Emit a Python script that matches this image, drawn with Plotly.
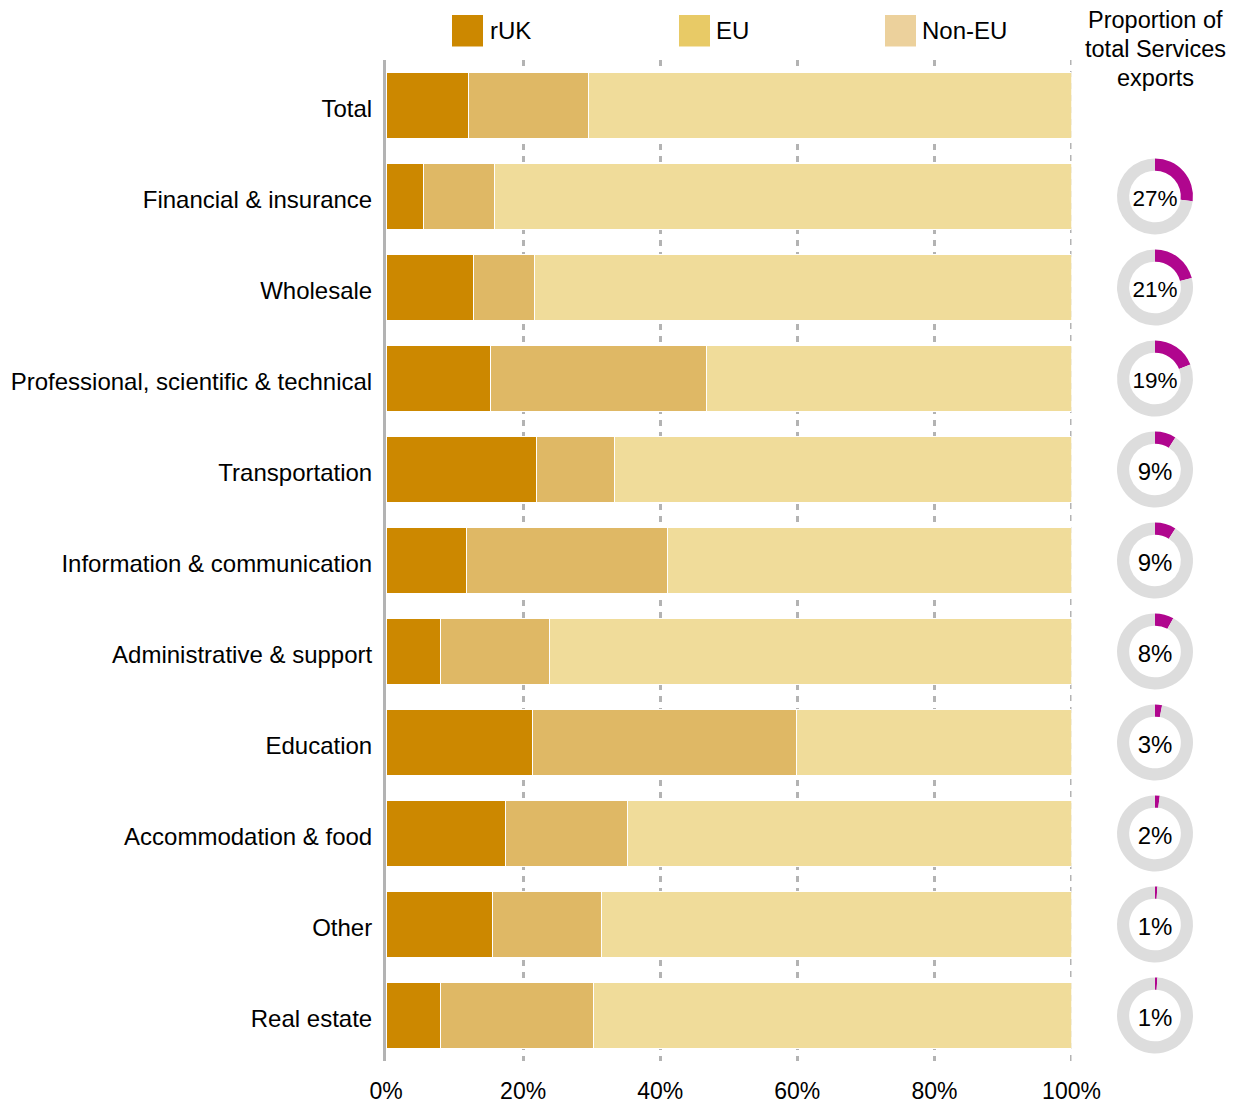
import plotly.graph_objects as go

# Sectors, top to bottom
sectors = [
    "Total",
    "Financial & insurance",
    "Wholesale",
    "Professional, scientific & technical",
    "Transportation",
    "Information & communication",
    "Administrative & support",
    "Education",
    "Accommodation & food",
    "Other",
    "Real estate",
]

# Share of each sector's services exports by destination (%)
ruk = [12.1, 5.5, 12.8, 15.3, 21.9, 11.7, 8.0, 21.4, 17.4, 15.5, 7.9]
eu = [17.5, 10.4, 8.9, 31.4, 11.4, 29.4, 15.9, 38.5, 17.8, 15.9, 22.4]
non_eu = [70.4, 84.1, 78.3, 53.3, 66.7, 58.9, 76.1, 40.1, 64.8, 68.6, 69.7]

# Each sector's proportion of total services exports (%), no ring for Total
proportion = [None, 27, 21, 19, 9, 9, 8, 3, 2, 1, 1]

x_ticks = [0, 20, 40, 60, 80, 100]

FONT = "Liberation Sans, Arial, sans-serif"
W, H = 1237, 1104
ML, MR, MT, MB = 10, 10, 60, 43
PW, PH = W - ML - MR, H - MT - MB

C_RUK = "#CC8800"
C_EU = "#DFB865"
C_NON = "#F0DC9A"
C_EU_KEY = "#E8CA66"
C_NON_KEY = "#ECD19C"
C_RING = "#DDDDDD"
C_SHARE = "#B0068E"
C_GRID = "#B3B3B3"


def px_x(px):
    return (px - ML) / PW


def px_y(py):
    return (MT + PH - py) / PH


fig = go.Figure()

for name, vals, col in [("rUK", ruk, C_RUK), ("EU", eu, C_EU), ("Non-EU", non_eu, C_NON)]:
    fig.add_trace(go.Bar(
        name=name, y=sectors, x=vals, orientation="h",
        marker=dict(color=col, line=dict(color="white", width=1)),
        showlegend=False, hoverinfo="x+y+name",
    ))

# Ring charts on the right, one per sector row
row_h = PH / len(sectors)
R = 38
cx = 1155
for i, (sec, p) in enumerate(zip(sectors, proportion)):
    if p is None:
        continue
    cy = MT + row_h * (i + 0.5)
    fig.add_trace(go.Pie(
        values=[p, 100 - p],
        labels=[sec, "Rest"],
        hole=0.68,
        sort=False,
        direction="clockwise",
        rotation=0,
        marker=dict(colors=[C_SHARE, C_RING], line=dict(width=0)),
        textinfo="none",
        showlegend=False,
        title=dict(text=f"{p}%", position="middle center",
                   font=dict(size=24, color="black", family=FONT)),
        domain=dict(x=[px_x(cx - R), px_x(cx + R)],
                    y=[px_y(cy + R), px_y(cy - R)]),
    ))

# Dashed guide at 100%, which the axis leaves out at the plot edge
shapes = [dict(type="line", xref="x", yref="paper", x0=100, x1=100, y0=0, y1=1,
               line=dict(color=C_GRID, width=3, dash="6px,6px"), layer="below")]

# Key along the top
annotations = []
for label, col, x0, tx in [("rUK", C_RUK, 452, 488), ("EU", C_EU_KEY, 679, 714),
                            ("Non-EU", C_NON_KEY, 885, 920)]:
    shapes.append(dict(type="rect", xref="paper", yref="paper",
                       x0=px_x(x0), x1=px_x(x0 + 31), y0=px_y(46.5), y1=px_y(15),
                       fillcolor=col, line=dict(width=0), layer="above"))
    annotations.append(dict(text=label, xref="paper", yref="paper",
                            x=px_x(tx), y=px_y(31), xanchor="left", yanchor="middle",
                            showarrow=False, font=dict(size=24, color="black", family=FONT)))

for line_text, ly in [("Proportion of", 20), ("total Services", 49), ("exports", 78)]:
    annotations.append(dict(text=line_text, xref="paper", yref="paper",
                            x=px_x(cx), y=px_y(ly), xanchor="center", yanchor="middle",
                            showarrow=False, font=dict(size=23.5, color="black", family=FONT)))

fig.update_layout(
    width=W, height=H,
    margin=dict(l=ML, r=MR, t=MT, b=MB, autoexpand=False),
    barmode="stack",
    bargap=0.285,
    plot_bgcolor="white",
    paper_bgcolor="white",
    font=dict(family=FONT, color="black"),
    shapes=shapes,
    annotations=annotations,
    xaxis=dict(
        domain=[px_x(386), px_x(1071.5)],
        range=[0, 100],
        tickvals=x_ticks,
        ticktext=[f"{v}%" for v in x_ticks],
        showgrid=True, gridcolor=C_GRID, gridwidth=3, griddash="6px,6px",
        zeroline=False, showline=False,
        ticks="", ticklabelstandoff=14,
        tickfont=dict(size=23, color="black", family=FONT),
        fixedrange=True,
    ),
    yaxis=dict(
        categoryorder="array", categoryarray=sectors,
        autorange="reversed",
        showgrid=False, zeroline=False,
        showline=True, linecolor=C_GRID, linewidth=3,
        ticks="", ticklabelstandoff=6, ticklabelshift=-3,
        tickfont=dict(size=24, color="black", family=FONT),
        automargin=False,
        fixedrange=True,
    ),
)

fig.write_html("out.html")
